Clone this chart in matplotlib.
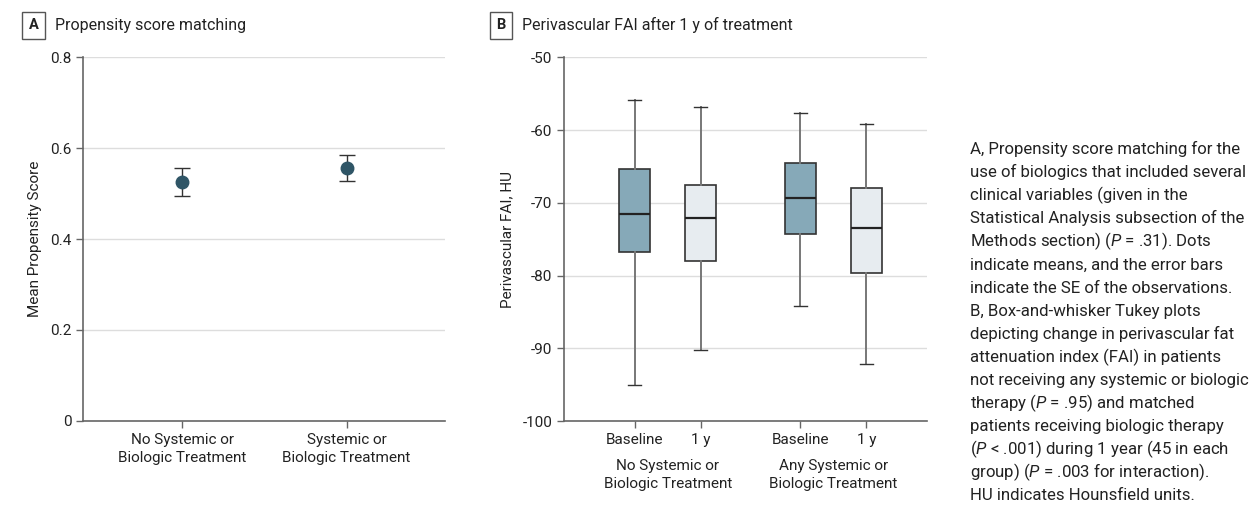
import numpy as np
import matplotlib
matplotlib.use("Agg")
import matplotlib.pyplot as plt

plt.rcParams['font.family'] = ['Roboto', 'DejaVu Sans']
plt.rcParams['axes.unicode_minus'] = False
plt.rcParams['mathtext.fontset'] = 'custom'
plt.rcParams['mathtext.it'] = 'Roboto:italic'
plt.rcParams['mathtext.rm'] = 'Roboto'

# panel A data
groups_a = ['No Systemic or\nBiologic Treatment', 'Systemic or\nBiologic Treatment']
mean_ps = [0.526, 0.557]
se_ps = [0.031, 0.029]

# panel B data (Tukey box stats, HU)
box_labels = ['Baseline', '1 y', 'Baseline', '1 y']
groups_b = ['No Systemic or\nBiologic Treatment', 'Any Systemic or\nBiologic Treatment']
whislo = [-95.0, -90.3, -84.2, -92.2]
q1 = [-76.8, -78.0, -74.3, -79.6]
med = [-71.5, -72.1, -69.4, -73.5]
q3 = [-65.3, -67.5, -64.5, -68.0]
whishi = [-55.9, -56.9, -57.6, -59.2]

caption_lines = [
    "A, Propensity score matching for the",
    "use of biologics that included several",
    "clinical variables (given in the",
    "Statistical Analysis subsection of the",
    "Methods section) ($\\it{P}$ = .31). Dots",
    "indicate means, and the error bars",
    "indicate the SE of the observations.",
    "B, Box-and-whisker Tukey plots",
    "depicting change in perivascular fat",
    "attenuation index (FAI) in patients",
    "not receiving any systemic or biologic",
    "therapy ($\\it{P}$ = .95) and matched",
    "patients receiving biologic therapy",
    "($\\it{P}$ < .001) during 1 year (45 in each",
    "group) ($\\it{P}$ = .003 for interaction).",
    "HU indicates Hounsfield units.",
]

dark = '#2f5566'
txt = '#222222'
spine_c = '#666666'


def style_ax(ax):
    for s in ['top', 'right']:
        ax.spines[s].set_visible(False)
    for s in ['left', 'bottom']:
        ax.spines[s].set_color(spine_c)
        ax.spines[s].set_linewidth(1.2)
    ax.tick_params(colors=spine_c, labelcolor=txt, labelsize=11, length=5, width=1.0)
    ax.yaxis.grid(True, color='#dddddd', linewidth=1.0)
    ax.set_axisbelow(True)


def panel_title(x, y, letter, title):
    fig.text(x, y, letter, fontsize=10.5, fontweight='bold', color=txt, va='center', ha='center',
             bbox=dict(boxstyle='square,pad=0.45', fc='white', ec='#555555', lw=1.0))
    fig.text(x + 0.0165, y, title, fontsize=11.5, color=txt, va='center', ha='left')


fig = plt.figure(figsize=(12.6, 5.12), dpi=100)

# ---- panel A
axA = fig.add_axes([0.0661, 0.1783, 0.2873, 0.7098])
xa = np.arange(len(groups_a))
axA.errorbar(xa, mean_ps, yerr=se_ps, fmt='o', color=dark, ms=9,
             ecolor='#333333', elinewidth=1.0, capsize=6, capthick=1.0)
axA.set_xlim(-0.6, 1.6)
axA.set_ylim(0, 0.8)
axA.set_yticks([0, 0.2, 0.4, 0.6, 0.8])
axA.set_yticklabels(['0', '0.2', '0.4', '0.6', '0.8'])
axA.set_xticks(xa)
axA.set_xticklabels(groups_a, fontsize=11, linespacing=1.4)
axA.set_ylabel('Mean Propensity Score', fontsize=11, color=txt, labelpad=6)
style_ax(axA)
panel_title(0.0268, 0.951, 'A', 'Propensity score matching')

# ---- panel B
axB = fig.add_axes([0.4479, 0.1777, 0.2876, 0.7104])
pos = [1, 2, 3.5, 4.5]
stats = []
for i in range(4):
    stats.append(dict(whislo=whislo[i], q1=q1[i], med=med[i], q3=q3[i], whishi=whishi[i], fliers=[]))
bp = axB.bxp(stats, positions=pos, widths=0.47, patch_artist=True, showfliers=False,
             boxprops=dict(edgecolor='#333333', linewidth=1.2),
             medianprops=dict(color='#222222', linewidth=1.6),
             whiskerprops=dict(color='#777777', linewidth=1.4),
             capprops=dict(color='#333333', linewidth=1.0), capwidths=0.2)
fills = ['#86a9b8', '#e7ecf0', '#86a9b8', '#e7ecf0']
for patch, c in zip(bp['boxes'], fills):
    patch.set_facecolor(c)
axB.set_xlim(-0.06, 5.41)
axB.set_ylim(-100, -50)
axB.set_yticks([-100, -90, -80, -70, -60, -50])
axB.set_xticks(pos)
axB.set_xticklabels(box_labels, fontsize=10.5)
axB.set_ylabel('Perivascular FAI, HU', fontsize=11, color=txt, labelpad=6)
style_ax(axB)
offset = matplotlib.transforms.ScaledTranslation(0, -38 / 100, fig.dpi_scale_trans)
for gx, g in zip([1.5, 4.0], groups_b):
    axB.text(gx, -100, g, transform=axB.transData + offset, fontsize=11, color=txt,
             ha='center', va='top', linespacing=1.4)
panel_title(0.3975, 0.951, 'B', 'Perivascular FAI after 1 y of treatment')

# ---- caption, one line at a time so spacing stays even
for i, line in enumerate(caption_lines):
    ybase = 154 + i * 23.1
    fig.text(970 / 1260, 1 - ybase / 512, line, fontsize=12.1, color=txt,
             va='baseline', ha='left')

fig.savefig('out.png', dpi=100)
